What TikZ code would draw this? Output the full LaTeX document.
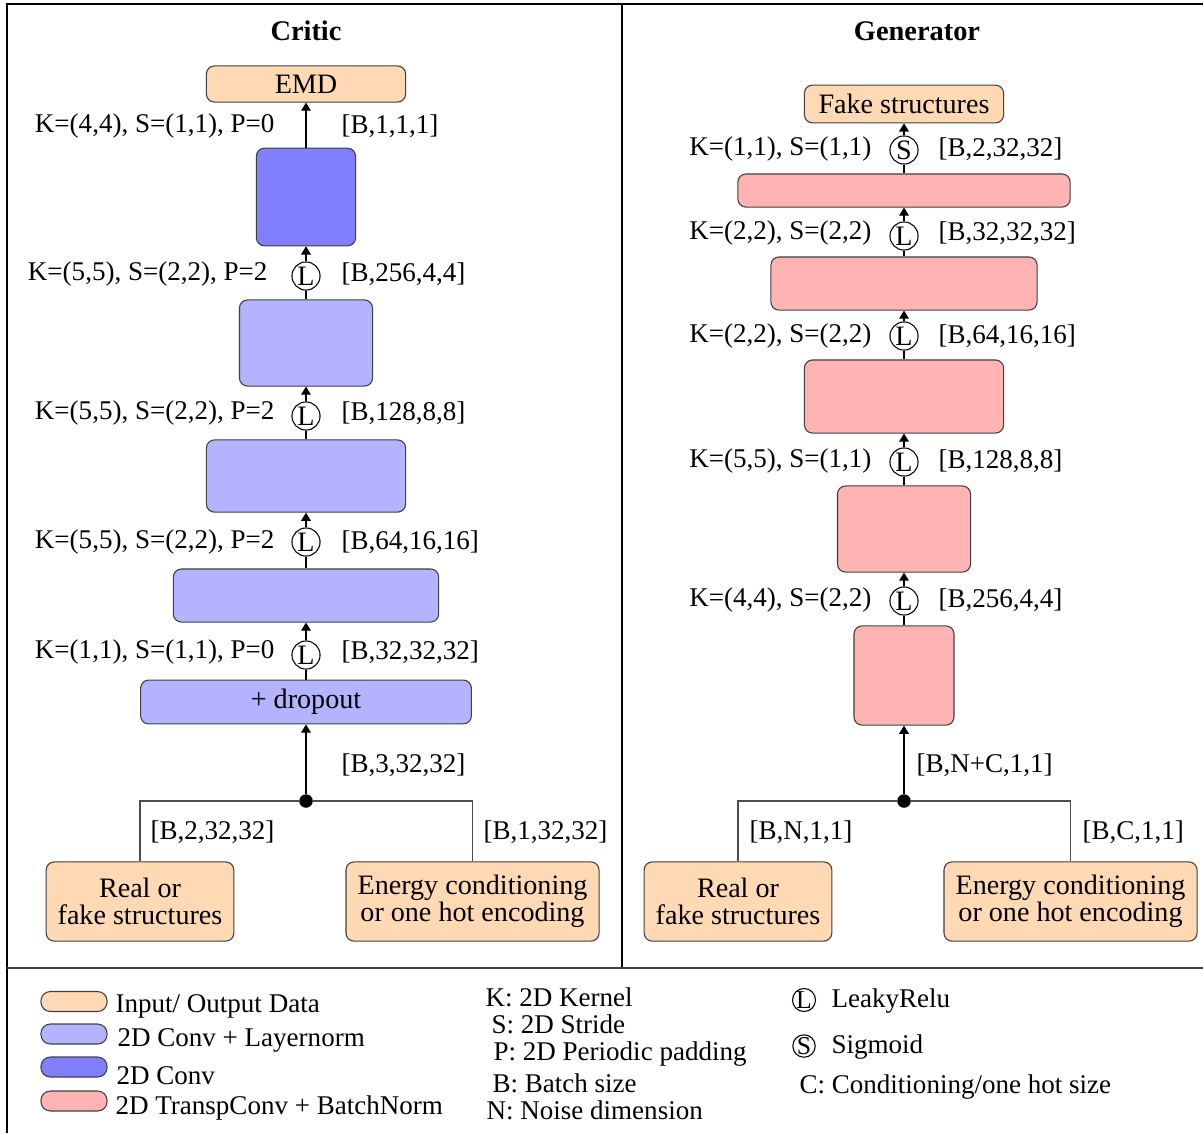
\documentclass[tikz,border=0pt]{standalone}
\usepackage{fontspec}
\setmainfont{Liberation Serif}
\usetikzlibrary{arrows.meta}

\definecolor{ioorange}{RGB}{255,217,179}
\definecolor{lnblue}{RGB}{179,179,255}
\definecolor{convblue}{RGB}{128,128,255}
\definecolor{tconvred}{RGB}{255,179,179}

\begin{document}
\begin{tikzpicture}[
    x=0.013cm, y=-0.013cm,
    font=\fontsize{10}{9.8}\selectfont,
    layer/.style={rounded corners=3pt, draw=black!75, inner sep=2pt},
    io/.style={layer, fill=ioorange, align=center, font=\fontsize{10.4}{9.8}\selectfont},
    lnconv/.style={layer, fill=lnblue},
    conv/.style={layer, fill=convblue},
    tconv/.style={layer, fill=tconvred},
    act/.style={circle, draw=black, fill=white, minimum size=10.4pt, inner sep=0pt, font=\fontsize{10.4}{10}\selectfont},
    legact/.style={circle, draw=black, minimum size=8.2pt, inner sep=0pt, font=\fontsize{9.5}{9}\selectfont},
    swatch/.style={draw=black!75, rounded corners=3.5pt, minimum width=0.86cm, minimum height=0.26cm},
    lbl/.style={inner sep=0pt, yshift=-0.7pt},
    title/.style={font=\fontsize{10.5}{10}\selectfont\bfseries},
    arrow/.style={-{Triangle[length=3pt,width=3.6pt]}, draw=black},
    branch/.style={draw=black!70},
    junction/.style={circle, fill=black, minimum size=5pt, inner sep=0pt}
  ]
    \useasboundingbox (0,0) rectangle (1203,1133);

    % frame
    \draw[line width=0.7pt] (7,1133) -- (7,4) -- (1203,4);
    \draw[line width=0.6pt] (622,4) -- (622,968);
    \draw[line width=0.9pt, black!75] (7,968) -- (1203,968);

    % critic
    \node[title] (critic) at (306,31) {Critic};
    \node[io, minimum width=2.59cm, minimum height=0.47cm] (emd) at (306,84) {EMD};
    \node[conv, minimum width=1.29cm, minimum height=1.27cm] (cc1) at (306,197) {};
    \node[lnconv, minimum width=1.73cm, minimum height=1.12cm] (cc2) at (306,343) {};
    \node[lnconv, minimum width=2.59cm, minimum height=0.94cm] (cc3) at (306,476) {};
    \node[lnconv, minimum width=3.45cm, minimum height=0.69cm] (cc4) at (306,595.5) {};
    \node[lnconv, minimum width=4.30cm, minimum height=0.57cm, font=\fontsize{10.4}{10}\selectfont] (cc5) at (306,702) {+ dropout};
    \node[io, minimum width=2.44cm, minimum height=1.03cm] (creal) at (140,901.5) {Real or\\fake structures};
    \node[io, minimum width=3.29cm, minimum height=1.03cm] (cenergy) at (472.5,901.5) {Energy conditioning\\or one hot encoding};

    \node[act] (cl1) at (306,276) {L};
    \node[act] (cl2) at (306,416) {L};
    \node[act] (cl3) at (306,542) {L};
    \node[act] (cl4) at (306,655) {L};
    \node[junction] (cj) at (306,801) {};

    \node[lbl, anchor=east] (ck0) at (275,124) {K=(4,4), S=(1,1), P=0};
    \node[lbl, anchor=west] (cs0) at (341,124) {[B,1,1,1]};
    \node[lbl, anchor=east] (ck1) at (268,272) {K=(5,5), S=(2,2), P=2};
    \node[lbl, anchor=west] (cs1) at (341,272) {[B,256,4,4]};
    \node[lbl, anchor=east] (ck2) at (275,411) {K=(5,5), S=(2,2), P=2};
    \node[lbl, anchor=west] (cs2) at (341,411) {[B,128,8,8]};
    \node[lbl, anchor=east] (ck3) at (275,540) {K=(5,5), S=(2,2), P=2};
    \node[lbl, anchor=west] (cs3) at (341,540) {[B,64,16,16]};
    \node[lbl, anchor=east] (ck4) at (275,650) {K=(1,1), S=(1,1), P=0};
    \node[lbl, anchor=west] (cs4) at (341,650) {[B,32,32,32]};
    \node[lbl, anchor=west] (cs5) at (341,763) {[B,3,32,32]};
    \node[lbl, anchor=west] (csr) at (150,830) {[B,2,32,32]};
    \node[lbl, anchor=west] (cse) at (483,830) {[B,1,32,32]};

    \draw[arrow] (cc1) -- (emd);
    \draw (cc2) -- (cl1);
    \draw[arrow] (cl1) -- (cc1);
    \draw (cc3) -- (cl2);
    \draw[arrow] (cl2) -- (cc2);
    \draw (cc4) -- (cl3);
    \draw[arrow] (cl3) -- (cc3);
    \draw (cc5) -- (cl4);
    \draw[arrow] (cl4) -- (cc4);
    \draw[arrow] (cj) -- (cc5);
    \draw[branch] (creal) |- (cj) -| (cenergy);

    % generator
    \node[title] (generator) at (917,31) {Generator};
    \node[io, minimum width=2.59cm, minimum height=0.49cm] (fake) at (904,104) {Fake structures};
    \node[tconv, minimum width=4.32cm, minimum height=0.43cm] (gc1) at (904,190.5) {};
    \node[tconv, minimum width=3.46cm, minimum height=0.69cm] (gc2) at (904,283.5) {};
    \node[tconv, minimum width=2.59cm, minimum height=0.95cm] (gc3) at (904,396.5) {};
    \node[tconv, minimum width=1.73cm, minimum height=1.12cm] (gc4) at (904,529) {};
    \node[tconv, minimum width=1.30cm, minimum height=1.29cm] (gc5) at (904,675.5) {};
    \node[io, minimum width=2.44cm, minimum height=1.03cm] (greal) at (738,901.5) {Real or\\fake structures};
    \node[io, minimum width=3.29cm, minimum height=1.03cm] (genergy) at (1070.5,901.5) {Energy conditioning\\or one hot encoding};

    \node[act] (gs0) at (904,150) {S};
    \node[act] (gl1) at (904,236) {L};
    \node[act] (gl2) at (904,336) {L};
    \node[act] (gl3) at (904,462) {L};
    \node[act] (gl4) at (904,601) {L};
    \node[junction] (gj) at (904,801) {};

    \node[lbl, anchor=east] (gk0) at (872,147) {K=(1,1), S=(1,1)};
    \node[lbl, anchor=west] (gz0) at (938,147) {[B,2,32,32]};
    \node[lbl, anchor=east] (gk1) at (872,231) {K=(2,2), S=(2,2)};
    \node[lbl, anchor=west] (gz1) at (938,231) {[B,32,32,32]};
    \node[lbl, anchor=east] (gk2) at (872,334) {K=(2,2), S=(2,2)};
    \node[lbl, anchor=west] (gz2) at (938,334) {[B,64,16,16]};
    \node[lbl, anchor=east] (gk3) at (872,459) {K=(5,5), S=(1,1)};
    \node[lbl, anchor=west] (gz3) at (938,459) {[B,128,8,8]};
    \node[lbl, anchor=east] (gk4) at (872,598) {K=(4,4), S=(2,2)};
    \node[lbl, anchor=west] (gz4) at (938,598) {[B,256,4,4]};
    \node[lbl, anchor=west] (gz5) at (916,763) {[B,N+C,1,1]};
    \node[lbl, anchor=west] (gzr) at (749,830) {[B,N,1,1]};
    \node[lbl, anchor=west] (gze) at (1082,830) {[B,C,1,1]};

    \draw[arrow] (gs0) -- (fake);
    \draw (gc1) -- (gs0);
    \draw (gc2) -- (gl1);
    \draw[arrow] (gl1) -- (gc1);
    \draw (gc3) -- (gl2);
    \draw[arrow] (gl2) -- (gc2);
    \draw (gc4) -- (gl3);
    \draw[arrow] (gl3) -- (gc3);
    \draw (gc5) -- (gl4);
    \draw[arrow] (gl4) -- (gc4);
    \draw[arrow] (gj) -- (gc5);
    \draw[branch] (greal) |- (gj) -| (genergy);

    % legend
    \node[swatch, fill=ioorange] (sw1) at (74,1001.5) {};
    \node[swatch, fill=lnblue] (sw2) at (74,1034) {};
    \node[swatch, fill=convblue] (sw3) at (74,1067) {};
    \node[swatch, fill=tconvred] (sw4) at (74,1101) {};
    \node[lbl, anchor=west] (sw1t) at (115,1005) {Input/ Output Data};
    \node[lbl, anchor=west] (sw2t) at (117,1039) {2D Conv + Layernorm};
    \node[lbl, anchor=west] (sw3t) at (116,1074) {2D Conv};
    \node[lbl, anchor=west] (sw4t) at (115,1106) {2D TranspConv + BatchNorm};

    \node[lbl, anchor=west] (kk) at (485,995) {K: 2D Kernel};
    \node[lbl, anchor=west] (ks) at (491,1022) {S: 2D Stride};
    \node[lbl, anchor=west] (kp) at (493,1052) {P: 2D Periodic padding};
    \node[lbl, anchor=west] (kb) at (492,1081) {B: Batch size};
    \node[lbl, anchor=west] (kn) at (486,1108) {N: Noise dimension};

    \node[legact] (lgl) at (804,1000) {L};
    \node[lbl, anchor=west] (lglt) at (831,999) {LeakyRelu};
    \node[legact] (lgs) at (804,1046) {S};
    \node[lbl, anchor=west] (lgst) at (831,1045) {Sigmoid};
    \node[lbl, anchor=west] (lgc) at (799,1085) {C: Conditioning/one hot size};
  \end{tikzpicture}
\end{document}
